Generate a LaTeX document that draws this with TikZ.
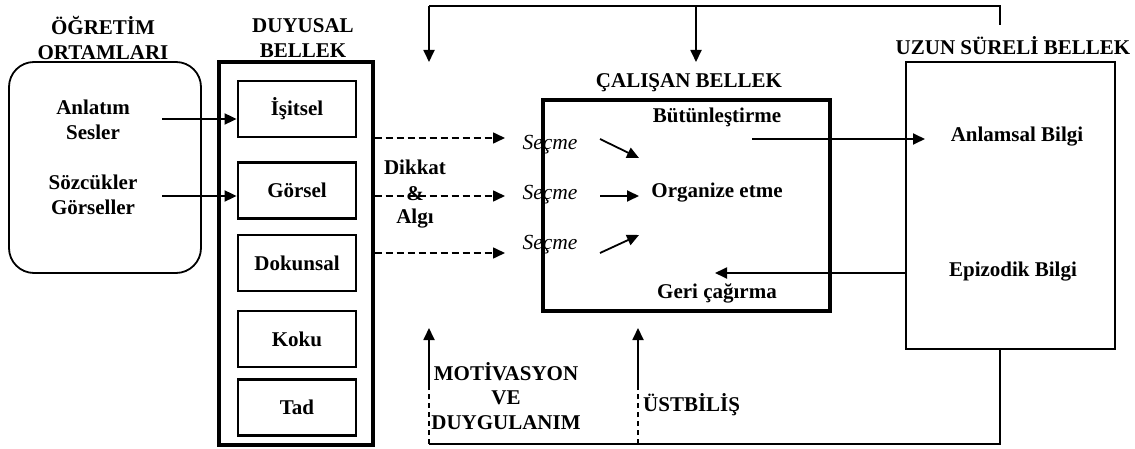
\documentclass[tikz,border=0pt]{standalone}
\usepackage{fontspec}
\setmainfont{Liberation Serif}
\usetikzlibrary{arrows.meta}
\begin{document}
\begin{tikzpicture}[x=1pt,y=-1pt,
  lbl/.style={font=\bfseries\fontsize{21}{24.5}\selectfont, align=center, inner sep=0pt},
  itl/.style={font=\itshape\fontsize{21.5}{24}\selectfont, inner sep=0pt},
  arr/.style={-{Triangle[length=12pt,width=11pt]}, line width=1.8pt},
  ln/.style={line width=1.8pt},
  dsh/.style={-{Triangle[length=12pt,width=11pt]}, line width=1.6pt, dash pattern=on 7pt off 4pt},
  vdsh/.style={line width=1.6pt, dash pattern=on 5pt off 4pt},
  sense/.style={lbl, draw, line width=2.8pt, minimum width=118pt, minimum height=56pt},
  thick box/.style={draw, line width=3.2pt}]
\useasboundingbox (0,0) rectangle (1135,449);

% titles
\node[lbl] (t-ogr) at (103,38) {ÖĞRETİM\\ORTAMLARI};
\node[lbl] (t-duy) at (303,38) {DUYUSAL\\BELLEK};
\node[lbl] (t-cal) at (689,83) {ÇALIŞAN BELLEK};
\node[lbl] (t-uzun) at (1013,46) {UZUN SÜRELİ BELLEK};

% environment box
\node[draw, rounded corners=25pt, line width=1.8pt, minimum width=192pt, minimum height=211pt] (env) at (105,167.5) {};
\node[lbl] (anl) at (93,120) {Anlatım\\Sesler};
\node[lbl] (soz) at (93,195) {Sözcükler\\Görseller};

% sensory memory
\node[thick box, minimum width=154pt, minimum height=383pt] (duy) at (296,253.5) {};
\node[sense] (isit) at (297,109) {İşitsel};
\node[sense] (gors) at (297,190.5) {Görsel};
\node[sense] (doku) at (297,263) {Dokunsal};
\node[sense] (koku) at (297,339) {Koku};
\node[sense] (tad)  at (297,407.5) {Tad};

\coordinate (s1) at (162,119);
\coordinate (s2) at (162,196);
\draw[arr] (s1) -- (isit.west |- s1);
\draw[arr] (s2) -- (gors.west |- s2);

% attention
\node[lbl] (dik) at (415,167) {Dikkat};
\node[lbl] (amp) at (415,194) {\&};
\node[lbl] (alg) at (415,219) {Algı};

\coordinate (d1) at (505,138);
\coordinate (d2) at (505,196);
\coordinate (d3) at (505,253);
\draw[dsh] (duy.east |- d1) -- (d1);
\draw[dsh] (duy.east |- d2) -- (d2);
\draw[dsh] (duy.east |- d3) -- (d3);

% working memory
\node[thick box, minimum width=287pt, minimum height=211pt] (cal) at (686.5,205.5) {};
\node[itl] (sec1) at (550,145) {Seçme};
\node[itl] (sec2) at (550,195) {Seçme};
\node[itl] (sec3) at (550,245) {Seçme};
\node[lbl] (but) at (717,117) {Bütünleştirme};
\node[lbl] (org) at (717,193) {Organize etme};
\node[lbl] (geri) at (717,293) {Geri çağırma};

\coordinate (a1s) at (600,139); \coordinate (a1e) at (639,158);
\coordinate (a2s) at (600,196); \coordinate (a2e) at (639,196);
\coordinate (a3s) at (600,253); \coordinate (a3e) at (639,235);
\draw[arr] (a1s) -- (a1e);
\draw[arr] (a2s) -- (a2e);
\draw[arr] (a3s) -- (a3e);

% long-term memory
\node[draw, line width=1.8pt, minimum width=209pt, minimum height=287pt] (ltm) at (1010.5,205.5) {};
\node[lbl] (anb) at (1017,137) {Anlamsal Bilgi};
\node[lbl] (epb) at (1013,272) {Epizodik Bilgi};

\coordinate (bs) at (752,139);
\coordinate (be) at (925,139);
\draw[arr] (bs) -- (be);
\coordinate (ee) at (715,273);
\draw[arr] (ltm.west |- ee) -- (ee);

% top feedback
\coordinate (tf0) at (1000,25);
\coordinate (tf1) at (1000,6);
\coordinate (tf2) at (429,6);
\coordinate (tf3) at (696,6);
\coordinate (tfa) at (429,62);
\coordinate (tfb) at (696,62);
\draw[ln] (tf0) -- (tf1) -- (tf2);
\draw[arr] (tf2) -- (tfa);
\draw[arr] (tf3) -- (tfb);

% bottom feedback
\coordinate (bf0) at (1000,349);
\coordinate (bf1) at (1000,444);
\coordinate (bf2) at (429,444);
\coordinate (bf3) at (638,444);
\coordinate (bm1) at (429,385);
\coordinate (bm2) at (638,385);
\coordinate (bt1) at (429,328);
\coordinate (bt2) at (638,328);
\draw[ln] (bf0) -- (bf1) -- (bf2);
\draw[vdsh] (bf2) -- (bm1);
\draw[vdsh] (bf3) -- (bm2);
\draw[arr] (bm1) -- (bt1);
\draw[arr] (bm2) -- (bt2);

\node[lbl] (mot) at (506,396) {MOTİVASYON\\VE\\DUYGULANIM};
\node[lbl, anchor=west] (ust) at (643,405) {ÜSTBİLİŞ};
\end{tikzpicture}
\end{document}
